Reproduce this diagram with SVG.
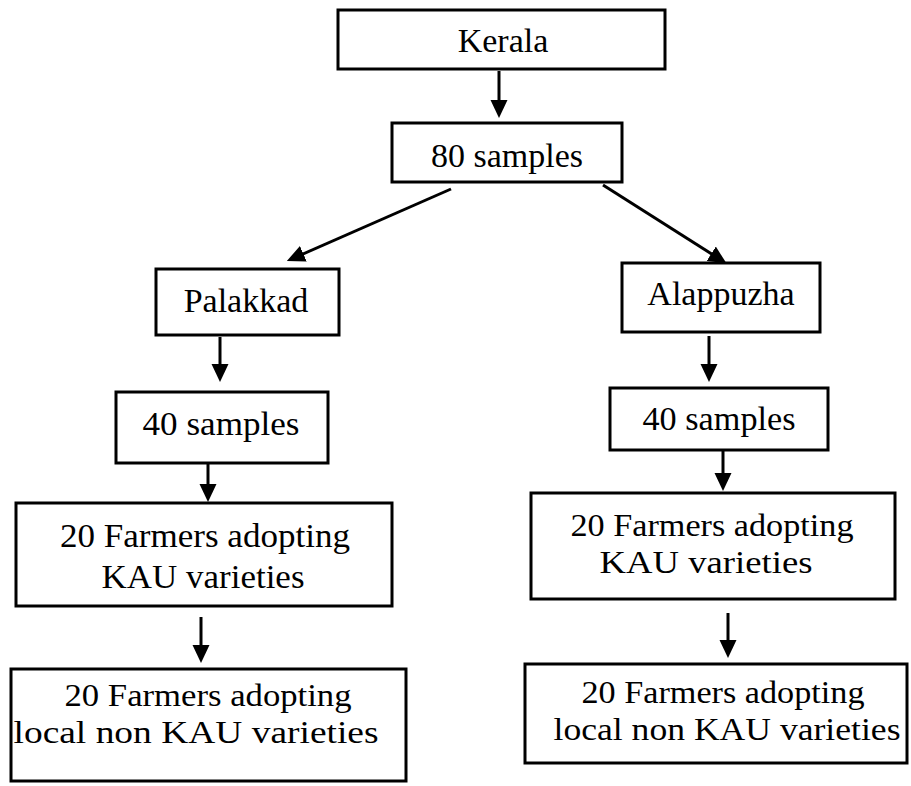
<svg xmlns="http://www.w3.org/2000/svg" width="911" height="786" viewBox="0 0 911 786">
<style>
.box{fill:#fff;stroke:#000;stroke-width:3}
.c{stroke:#000;stroke-width:3;fill:none;marker-end:url(#ah)}
</style>
<defs>
<marker id="ah" markerUnits="userSpaceOnUse" markerWidth="18" markerHeight="18" refX="8" refY="8.5" orient="auto">
<path d="M0,0 L18,8.5 L0,17 Z" fill="#000"/>
</marker>
</defs>
<rect width="911" height="786" fill="#fff"/>
<g id="connectors">
<line class="c" x1="499" y1="71" x2="499" y2="108"/>
<line class="c" x1="451" y1="189" x2="296" y2="257"/>
<line class="c" x1="603" y1="185" x2="718" y2="258"/>
<line class="c" x1="220" y1="337" x2="220" y2="372"/>
<line class="c" x1="709" y1="336" x2="709" y2="372"/>
<line class="c" x1="208" y1="463" x2="208" y2="492"/>
<line class="c" x1="723" y1="450" x2="723" y2="481"/>
<line class="c" x1="201" y1="617" x2="201" y2="653"/>
<line class="c" x1="728" y1="613" x2="728" y2="648"/>
</g>
<g font-family="'Liberation Serif', serif" font-size="34" fill="#000" text-anchor="middle">
<g id="kerala">
<rect class="box" x="338" y="10" width="327" height="59"/>
<text x="503" y="52">Kerala</text>
</g>
<g id="samples80">
<rect class="box" x="392" y="123" width="230" height="59"/>
<text x="507" y="167">80 samples</text>
</g>
<g id="palakkad">
<rect class="box" x="156" y="269" width="183" height="66"/>
<text x="246" y="312">Palakkad</text>
</g>
<g id="alappuzha">
<rect class="box" x="622" y="263" width="198" height="69"/>
<text x="721" y="305">Alappuzha</text>
</g>
<g id="samples40-left">
<rect class="box" x="116" y="392" width="212" height="71"/>
<text x="221" y="435" textLength="157" lengthAdjust="spacingAndGlyphs">40 samples</text>
</g>
<g id="samples40-right">
<rect class="box" x="610" y="388" width="218" height="62"/>
<text x="719" y="430" textLength="153" lengthAdjust="spacingAndGlyphs">40 samples</text>
</g>
<g id="kau-left">
<rect class="box" x="16" y="503" width="376" height="103"/>
<text x="205" y="547" textLength="290" lengthAdjust="spacingAndGlyphs">20 Farmers adopting</text>
<text x="203" y="588" textLength="203" lengthAdjust="spacingAndGlyphs">KAU varieties</text>
</g>
<g id="kau-right" font-size="32">
<rect class="box" x="531" y="493" width="364" height="106"/>
<text x="712" y="536" textLength="283" lengthAdjust="spacingAndGlyphs">20 Farmers adopting</text>
<text x="706" y="573" textLength="213" lengthAdjust="spacingAndGlyphs">KAU varieties</text>
</g>
<g id="local-left" font-size="32">
<rect class="box" x="11" y="669" width="395" height="112"/>
<text x="208" y="706" textLength="287" lengthAdjust="spacingAndGlyphs">20 Farmers adopting</text>
<text x="196" y="743" textLength="365" lengthAdjust="spacingAndGlyphs">local non KAU varieties</text>
</g>
<g id="local-right" font-size="32">
<rect class="box" x="525" y="664" width="382" height="99"/>
<text x="723" y="703" textLength="283" lengthAdjust="spacingAndGlyphs">20 Farmers adopting</text>
<text x="727" y="740" textLength="347" lengthAdjust="spacingAndGlyphs">local non KAU varieties</text>
</g>
</g>
</svg>
